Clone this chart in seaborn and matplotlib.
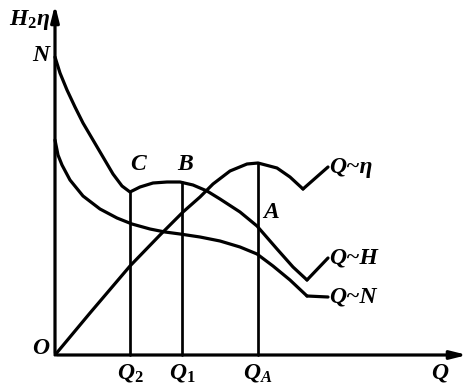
import numpy as np
import pandas as pd
import matplotlib
matplotlib.use("Agg")
import matplotlib.pyplot as plt
import seaborn as sns

# ---- data (Q and value in arbitrary units) ----
q_H = [0, 5, 12, 20, 28, 38, 48, 58, 67, 75, 85, 98, 112, 125, 138, 152, 165, 185, 202, 222, 238, 252]
v_H = [298, 282, 265, 248, 232, 215, 198, 181, 169, 163, 168, 172, 173, 173, 170, 164, 156, 143, 129, 106, 88, 75]

q_N = [0, 3, 7, 15, 28, 45, 62, 77, 95, 110, 125, 145, 165, 185, 202, 218, 235, 252]
v_N = [215, 200, 190, 175, 159, 146, 137, 131, 126, 123, 121, 118, 114, 108, 101, 89, 75, 59]

q_eta = [0, 35, 75, 105, 128, 145, 158, 175, 192, 203, 222, 235, 248]
v_eta = [0, 42, 89, 120, 143, 158, 171, 184, 191, 192, 187, 178, 166]

Q_marks = [75, 127, 203]
Q_mark_labels = ["$Q_2$", "$Q_1$", "$Q_A$"]
point_labels = ["C", "B", "A"]
curve_labels = ["Q~η", "Q~H", "Q~N"]

sns.set_theme(style="white")
plt.rcParams["font.family"] = ["Liberation Serif", "DejaVu Serif"]
plt.rcParams["mathtext.fontset"] = "custom"
plt.rcParams["mathtext.it"] = "Liberation Serif:italic:bold"
plt.rcParams["mathtext.rm"] = "Liberation Serif:bold"

fig = plt.figure(figsize=(4.74, 3.89), dpi=100)
ax = fig.add_axes([0, 0, 1, 1])
ax.set_xlim(-55, 419)
ax.set_ylim(-34, 355)
ax.axis("off")

lw = 2.3
df = pd.concat([
    pd.DataFrame({"Q": q_H, "v": v_H, "c": "H"}),
    pd.DataFrame({"Q": q_N, "v": v_N, "c": "N"}),
    pd.DataFrame({"Q": q_eta, "v": v_eta, "c": "eta"}),
], ignore_index=True)
sns.lineplot(data=df, x="Q", y="v", units="c", estimator=None, sort=False,
             color="black", lw=lw, ax=ax, legend=False)
for line in ax.get_lines():
    line.set_solid_joinstyle("round")
    line.set_solid_capstyle("round")

# axes with arrows
ax.annotate("", xy=(415, 0), xytext=(-1, 0),
            arrowprops=dict(arrowstyle="-|>,head_length=0.8,head_width=0.2", color="black", lw=lw))
ax.annotate("", xy=(0, 353), xytext=(0, -1),
            arrowprops=dict(arrowstyle="-|>,head_length=0.8,head_width=0.2", color="black", lw=lw))

# vertical marker lines
tops = [np.interp(Q_marks[0], q_H, v_H), np.interp(Q_marks[1], q_H, v_H),
        np.interp(Q_marks[2], q_eta, v_eta)]
for q, t in zip(Q_marks, tops):
    ax.plot([q, q], [0, t], color="black", lw=lw * 0.85)

fs = 17
tkw = dict(fontsize=fs, fontweight="bold", fontstyle="italic", color="black")

for q, lab in zip(Q_marks, Q_mark_labels):
    ax.text(q, -7, lab, ha="center", va="top", **tkw)
ax.text(385, -7, "Q", ha="center", va="top", **tkw)
ax.text(-6, 7, "O", ha="right", va="center", **tkw)
ax.text(-6, 300, "N", ha="right", va="center", **tkw)
ax.text(-5, 335, "$H_2\\eta$", ha="right", va="center", **tkw)

ax.text(Q_marks[0] + 8, 180, point_labels[0], ha="center", va="bottom", **tkw)
ax.text(Q_marks[1] + 3, 180, point_labels[1], ha="center", va="bottom", **tkw)
ax.text(Q_marks[2] + 13, 143, point_labels[2], ha="center", va="center", **tkw)

# leaders and curve labels
ends = [(q_eta[-1], v_eta[-1]), (q_H[-1], v_H[-1]), (q_N[-1], v_N[-1])]
leader_to = [(273, 188), (273, 97), (273, 58)]
for (x0, y0), (x1, y1), lab in zip(ends, leader_to, curve_labels):
    ax.plot([x0, x1], [y0, y1], color="black", lw=lw)
    ax.text(x1 + 1, y1, lab, ha="left", va="center", **tkw)

fig.savefig("out.png", dpi=100, facecolor="white")
